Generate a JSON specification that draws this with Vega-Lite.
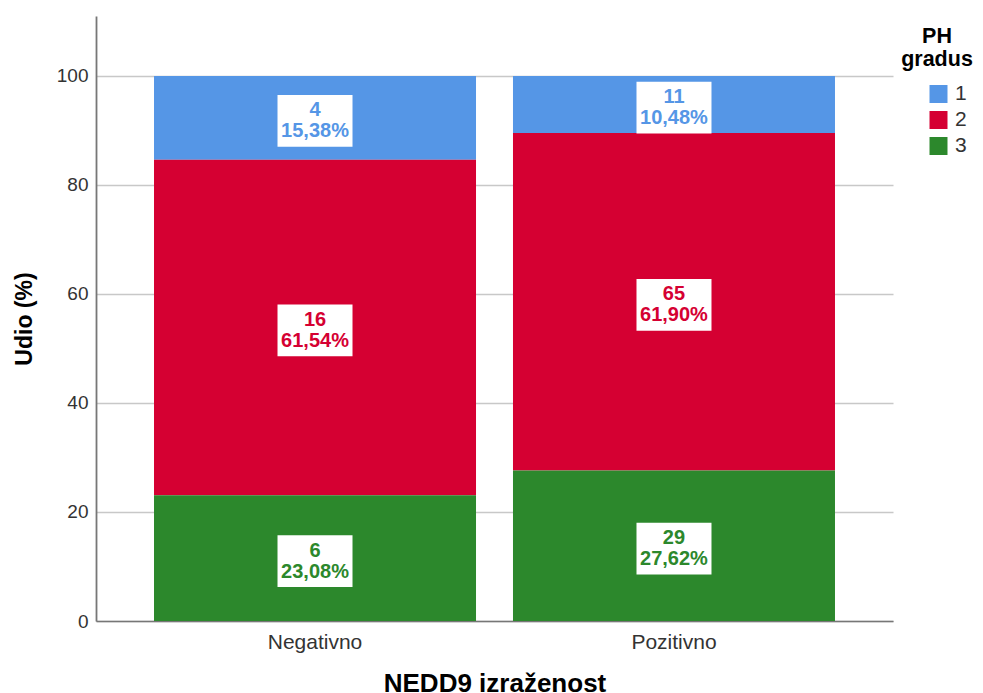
{
  "$schema": "https://vega.github.io/schema/vega-lite/v6.json",
  "width": 797,
  "height": 605,
  "autosize": {"type": "none"},
  "padding": {"left": 96, "top": 16, "right": 90, "bottom": 72},
  "background": "white",
  "config": {
    "font": "Liberation Sans",
    "view": {"stroke": null},
    "axis": {"labelFont": "Liberation Sans", "titleFont": "Liberation Sans"},
    "legend": {"labelFont": "Liberation Sans", "titleFont": "Liberation Sans"}
  },
  "data": {
    "values": [
      {"cat": "Negativno", "grade": "1", "n": 4, "pct": 15.38, "lbl": "4\n15,38%"},
      {"cat": "Negativno", "grade": "2", "n": 16, "pct": 61.54, "lbl": "16\n61,54%"},
      {"cat": "Negativno", "grade": "3", "n": 6, "pct": 23.08, "lbl": "6\n23,08%"},
      {"cat": "Pozitivno", "grade": "1", "n": 11, "pct": 10.48, "lbl": "11\n10,48%"},
      {"cat": "Pozitivno", "grade": "2", "n": 65, "pct": 61.90, "lbl": "65\n61,90%"},
      {"cat": "Pozitivno", "grade": "3", "n": 29, "pct": 27.62, "lbl": "29\n27,62%"}
    ]
  },
  "transform": [
    {"stack": "pct", "groupby": ["cat"], "sort": [{"field": "grade", "order": "descending"}], "as": ["y0", "y1"]}
  ],
  "encoding": {
    "x": {
      "field": "cat", "type": "nominal",
      "scale": {"paddingInner": 0.103, "paddingOuter": 0.1616},
      "axis": {
        "title": "NEDD9 izraženost",
        "titleFontSize": 26, "titleFontWeight": "bold", "titleColor": "#000000",
        "titlePadding": 18,
        "labelFontSize": 21, "labelColor": "#333333", "labelAngle": 0, "labelPadding": 10,
        "ticks": false, "grid": false,
        "domainColor": "#777777", "domainWidth": 1.5
      }
    },
    "color": {
      "field": "grade", "type": "nominal",
      "scale": {"domain": ["1", "2", "3"], "range": ["#5596E6", "#D50032", "#2C882C"]},
      "legend": {
        "title": ["PH", "gradus"],
        "orient": "none", "legendX": 805, "legendY": 10,
        "padding": 0,
        "titleFontSize": 21.5, "titleFontWeight": "bold", "titleColor": "#000000",
        "titleAnchor": "middle", "titleAlign": "center", "titleLineHeight": 23, "titlePadding": 13,
        "symbolType": "square", "symbolSize": 324, "symbolStrokeWidth": 0, "symbolOpacity": 1,
        "symbolOffset": 21,
        "labelFontSize": 21, "labelColor": "#333333", "labelOffset": 6,
        "rowPadding": 4
      }
    },
    "y": {
      "field": "y0", "type": "quantitative",
      "scale": {"domain": [0, 111], "nice": false},
      "axis": {
        "title": "Udio (%)",
        "titleFontSize": 23, "titleFontWeight": "bold", "titleColor": "#000000",
        "titlePadding": 20,
        "values": [0, 20, 40, 60, 80, 100],
        "labelFontSize": 19, "labelColor": "#333333", "labelPadding": 8,
        "ticks": false,
        "grid": true, "gridColor": "#c8c8c8", "gridWidth": 1.3,
        "domainColor": "#777777", "domainWidth": 1.8
      }
    }
  },
  "layer": [
    {
      "mark": {"type": "bar"},
      "encoding": {
        "y2": {"field": "y1"}
      }
    },
    {
      "transform": [
        {"fold": ["y0", "y1"], "as": ["k", "v"]},
        {"aggregate": [{"op": "mean", "field": "v", "as": "y0"}], "groupby": ["cat", "grade", "lbl"]}
      ],
      "layer": [
        {
          "mark": {"type": "point", "shape": "M-1,-0.61L1,-0.61L1,0.77L-1,0.77Z", "size": 5625, "filled": true, "fill": "white", "opacity": 1, "strokeWidth": 0}
        },
        {
          "mark": {"type": "text", "fontSize": 20, "fontWeight": "bold", "lineBreak": "\n", "lineHeight": 21, "align": "center", "baseline": "middle", "dy": -7.5},
          "encoding": {
            "text": {"field": "lbl"}
          }
        }
      ]
    }
  ]
}
